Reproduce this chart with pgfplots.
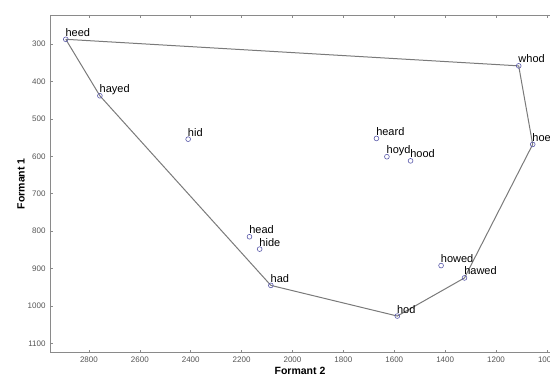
\documentclass[border=0pt]{standalone}
\usepackage{pgfplots}
\pgfplotsset{compat=1.18}
\usepackage{fontspec}
\setmainfont{Liberation Sans}
\definecolor{mk}{HTML}{5A5AAA}
\definecolor{ln}{HTML}{7A7A7A}
\definecolor{ax}{HTML}{8A8A8A}
\definecolor{tk}{HTML}{555555}
\begin{document}
\begin{tikzpicture}
\begin{axis}[
  at={(50pt,24.3pt)}, anchor=south west,
  scale only axis, width=500pt, height=337.7pt,
  x dir=reverse, y dir=reverse,
  xmin=988, xmax=2953, ymin=222, ymax=1125,
  axis x line*=box, axis y line*=left,
  axis line style={ax, line width=0.9pt},
  xtick={1000,1200,...,2800}, ytick={300,400,...,1100},
  tick align=inside, major tick length=3pt,
  tick style={ax, line width=0.6pt},
  /pgf/number format/assume math mode=true,
  /pgf/number format/set thousands separator={},
  tick label style={font=\fontsize{8}{9}\selectfont, text=tk},
  xticklabel style={yshift=-1pt},
  yticklabel style={xshift=-1pt},
  xlabel={\textbf{Formant 2}}, ylabel={\textbf{Formant 1}},
  label style={font=\fontsize{10.5}{12}\selectfont},
  xlabel style={yshift=3pt},
  ylabel style={yshift=-4pt},
  clip=false,
]
\addplot[ln, line width=1pt, no marks] coordinates {
  (2891,287) (1111,358) (1056,568) (1324,925) (1588,1027) (2085,945) (2757,438) (2891,287)
};
\addplot[only marks, mark=o, mark size=2.4pt, mk, line width=0.6pt,
  point meta=explicit symbolic,
  nodes near coords,
  every node near coord/.append style={anchor=base west, inner sep=0pt, xshift=-0.5pt, yshift=3pt, text=black, font=\fontsize{11}{13}\selectfont}
] table[meta=label] {
x y label
2891 287 heed
2757 438 hayed
2410 554 hid
1670 552 heard
1629 601 hoyd
1536 612 hood
1111 358 whod
1056 568 hoe
2169 815 head
2129 848 hide
2085 945 had
1588 1027 hod
1416 892 howed
1324 925 hawed
};
\end{axis}
\pgfresetboundingbox
\path[use as bounding box] (0,0) rectangle (550pt,377pt);
\end{tikzpicture}
\end{document}
